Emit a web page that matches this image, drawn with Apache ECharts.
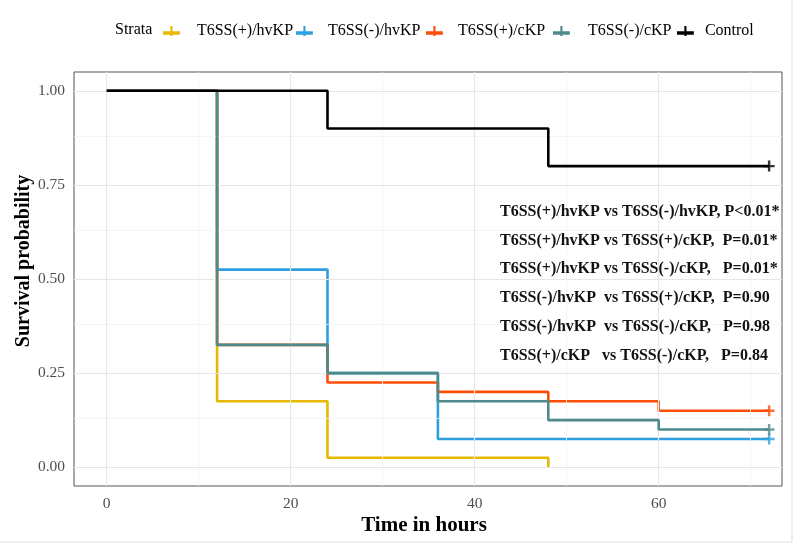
<!DOCTYPE html>
<html>
<head>
<meta charset="utf-8">
<script src="https://cdn.jsdelivr.net/npm/echarts@6/dist/echarts.min.js"></script>
<style>html,body{margin:0;padding:0;background:#fff}#c{width:795px;height:547px}</style>
</head>
<body>
<div id="c"></div>
<script>
// ---- data ----
const strataNames = ['T6SS(+)/hvKP', 'T6SS(-)/hvKP', 'T6SS(+)/cKP', 'T6SS(-)/cKP', 'Control'];
const strataColors = ['#E7B800', '#2E9FDF', '#FC4E07', '#4F8A8B', '#000000'];
// step times and survival values (Kaplan-Meier), last point = end of follow-up
const timesHvPos = [0, 12, 24, 48];
const survHvPos  = [1, 0.175, 0.025, 0];
const timesHvNeg = [0, 12, 24, 36, 72];
const survHvNeg  = [1, 0.525, 0.25, 0.075, 0.075];
const timesCPos  = [0, 12, 24, 36, 48, 60, 72];
const survCPos   = [1, 0.325, 0.225, 0.2, 0.175, 0.15, 0.15];
const timesCNeg  = [0, 12, 24, 36, 48, 60, 72];
const survCNeg   = [1, 0.325, 0.25, 0.175, 0.125, 0.1, 0.1];
const timesCtrl  = [0, 24, 48, 72];
const survCtrl   = [1, 0.9, 0.8, 0.8];
// censored observations (time, survival) per stratum
const censorTime = [null, 72, 72, 72, 72];
const censorSurv = [null, 0.075, 0.15, 0.1, 0.8];
const xTicks = [0, 20, 40, 60];
const xMinor = [10, 30, 50, 70];
const yTicks = [0, 0.25, 0.5, 0.75, 1];
const yMinor = [0.125, 0.375, 0.625, 0.875];
const pvalueLines = [
  'T6SS(+)/hvKP vs T6SS(-)/hvKP, P<0.01*',
  'T6SS(+)/hvKP vs T6SS(+)/cKP,  P=0.01*',
  'T6SS(+)/hvKP vs T6SS(-)/cKP,   P=0.01*',
  'T6SS(-)/hvKP  vs T6SS(+)/cKP,  P=0.90',
  'T6SS(-)/hvKP  vs T6SS(-)/cKP,   P=0.98',
  'T6SS(+)/cKP   vs T6SS(-)/cKP,   P=0.84'
];
const allTimes = [timesHvPos, timesHvNeg, timesCPos, timesCNeg, timesCtrl];
const allSurv = [survHvPos, survHvNeg, survCPos, survCNeg, survCtrl];

// ---- chart ----
const FONT = '"Liberation Serif", "Times New Roman", serif';
const chart = echarts.init(document.getElementById('c'), null, {renderer: 'canvas'});
const crossPath = 'path://M-1,-0.22L-0.22,-0.22L-0.22,-1L0.22,-1L0.22,-0.22L1,-0.22L1,0.22L0.22,0.22L0.22,1L-0.22,1L-0.22,0.22L-1,0.22Z';
const legendIcon = 'path://M-8,0L-1,0L-1,-5L1,-5L1,0L8,0L8,3.2L1,3.2L1,4.5L-1,4.5L-1,3.2L-8,3.2Z';

const series = [];
// grid lines via markLine on a dummy series
series.push({
  type: 'line', data: [], silent: true, z: 0,
  markLine: {
    silent: true, symbol: ['none', 'none'], label: {show: false},
    animation: false,
    data: [
      ...xMinor.map(v => ({xAxis: v, lineStyle: {color: '#f2f2f2', width: 0.8, type: 'solid'}})),
      ...yMinor.map(v => ({yAxis: v, lineStyle: {color: '#f2f2f2', width: 0.8, type: 'solid'}})),
      ...xTicks.map(v => ({xAxis: v, lineStyle: {color: '#e6e6e6', width: 1.2, type: 'solid'}})),
      ...yTicks.map(v => ({yAxis: v, lineStyle: {color: '#e6e6e6', width: 1.2, type: 'solid'}}))
    ]
  }
});
strataNames.forEach((name, i) => {
  series.push({
    name: name, type: 'line', step: 'end', showSymbol: false, symbol: 'none',
    data: allTimes[i].map((t, k) => [t, allSurv[i][k]]),
    lineStyle: {color: strataColors[i], width: 2.6},
    itemStyle: {color: strataColors[i]},
    animation: false, z: 2 + i
  });
  if (censorTime[i] !== null) {
    series.push({
      name: name + ' censor', type: 'scatter', symbol: crossPath, symbolSize: 11,
      data: [[censorTime[i], censorSurv[i]]],
      itemStyle: {color: strataColors[i]}, animation: false, z: 2 + i, silent: true
    });
  }
});

const graphics = [
  {type: 'rect', z: 100, shape: {x: -5, y: -5, width: 797, height: 547}, style: {fill: 'none', stroke: '#dedede', lineWidth: 1}, silent: true},
  {type: 'text', z: 100, x: 115, y: 29.5, style: {text: 'Strata', font: '16px ' + FONT, fill: '#000', verticalAlign: 'middle'}}
];
const pvalueY = [211.7, 240.5, 269.3, 298, 327, 355.7];
pvalueLines.forEach((s, k) => {
  graphics.push({type: 'text', z: 100, x: 500, y: pvalueY[k],
    style: {text: s, font: 'bold 16px ' + FONT, fill: '#111', verticalAlign: 'middle'}});
});
graphics.push({type: 'text', z: 100, x: 424, y: 526, style: {text: 'Time in hours', font: 'bold 21px ' + FONT, fill: '#000', align: 'center', verticalAlign: 'middle'}});
graphics.push({type: 'text', z: 100, x: 24, y: 261, rotation: Math.PI / 2, style: {text: 'Survival probability', font: 'bold 20px ' + FONT, fill: '#000', align: 'center', verticalAlign: 'middle'}});

// one legend component per stratum so that each item sits where the reference has it
const legendIconLeft = [163, 296, 426, 553, 677];
const legendTextLeft = [197, 328, 458, 588, 705];
const legends = strataNames.map((n, i) => ({
  data: [{name: n, icon: legendIcon, itemStyle: {color: strataColors[i]}}],
  left: legendIconLeft[i], top: 23, itemWidth: 17, itemHeight: 10, itemGap: 0,
  padding: 0,
  textStyle: {fontFamily: FONT, fontSize: 16, color: '#000', padding: [0, 0, 0, legendTextLeft[i] - legendIconLeft[i] - 22]},
  selectedMode: false
}));

chart.setOption({
  animation: false,
  backgroundColor: '#fff',
  grid: {left: 74, right: 13, top: 72, bottom: 61, show: true, borderColor: '#555', borderWidth: 1, backgroundColor: 'transparent'},
  legend: legends,
  xAxis: {
    type: 'value', min: -3.55, max: 73.4,
    axisLine: {show: false},
    splitLine: {show: false},
    axisTick: {show: true, customValues: xTicks, length: 5, lineStyle: {color: '#333'}},
    axisLabel: {customValues: xTicks, fontFamily: FONT, fontSize: 15.5, color: '#4d4d4d', margin: 10}
  },
  yAxis: {
    type: 'value', min: -0.05, max: 1.05,
    axisLine: {show: false},
    splitLine: {show: false},
    axisTick: {show: true, customValues: yTicks, length: 5, lineStyle: {color: '#333'}},
    axisLabel: {customValues: yTicks, fontFamily: FONT, fontSize: 15.5, color: '#4d4d4d', margin: 9,
      formatter: v => v.toFixed(2)}
  },
  graphic: graphics,
  series: series
});
</script>
</body>
</html>
